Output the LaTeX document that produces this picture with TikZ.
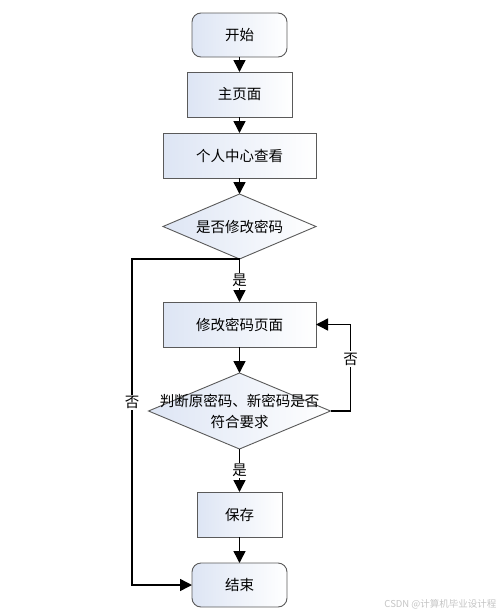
\documentclass[tikz,border=0pt]{standalone}
\usepackage{fontspec}
\setmainfont{Noto Sans CJK SC}
\usetikzlibrary{arrows.meta,positioning,shapes.geometric}
\definecolor{edge}{HTML}{5A5A5A}
\definecolor{frost}{HTML}{DDE5F4}
\definecolor{mark}{HTML}{C4C4C4}
\tikzset{base/.style={draw=edge,line width=0.9pt,outer sep=0pt,left color=frost,right color=white,font=\fontsize{14.5pt}{21pt}\selectfont,align=center,inner sep=0pt},term/.style={base,rectangle,rounded corners=9pt,minimum width=95pt,minimum height=44pt},proc/.style={base,rectangle,minimum height=45pt},decision/.style={base,diamond},flow/.style={-{Triangle[length=12pt,width=12pt]},line width=1.5pt,draw=black},lbl/.style={fill=white,inner sep=1.5pt,font=\fontsize{14.5pt}{17pt}\selectfont}}
\begin{document}
\begin{tikzpicture}[x=1pt,y=1pt]
\useasboundingbox (0,0) rectangle (502,-616);
\node[term] (start) at (239.5,-35) {开始};
\node[proc,minimum width=105pt,below=15pt of start] (home) {主页面};
\node[proc,minimum width=153pt,below=16pt of home] (center) {个人中心查看};
\node[decision,minimum width=153pt,minimum height=65pt,below=16pt of center,label={[font=\fontsize{14.5pt}{17pt}\selectfont]center:是否修改密码}] (ask) {};
\node[proc,minimum width=153pt,below=43pt of ask] (change) {修改密码页面};
\node[decision,minimum width=182pt,minimum height=76pt,below=26pt of change,label={[align=center,font=\fontsize{14.5pt}{21pt}\selectfont]center:判断原密码、新密码是否\\符合要求}] (check) {};
\node[proc,minimum width=85pt,below=43pt of check] (save) {保存};
\node[term,below=26pt of save] (finish) {结束};
\coordinate (lft) at (132,-259);
\node[text=mark,font=\fontsize{9.5pt}{11pt}\selectfont,anchor=east] (wm) at (500,-604) {CSDN @计算机毕业设计程};
\draw[flow](start)--(home);\draw[flow](home)--(center);\draw[flow](center)--(ask);
\draw[flow](ask)--node[lbl]{是}(change);\draw[flow](change)--(check);
\draw[flow](check)--node[lbl]{是}(save);\draw[flow](save)--(finish);
\draw[flow](check.east)--++(20,0)|-node[lbl,pos=0.3]{否}(change.east);
\draw[flow](ask.south)--(lft)|-node[lbl,pos=0.22]{否}(finish.west);
\end{tikzpicture}
\end{document}
